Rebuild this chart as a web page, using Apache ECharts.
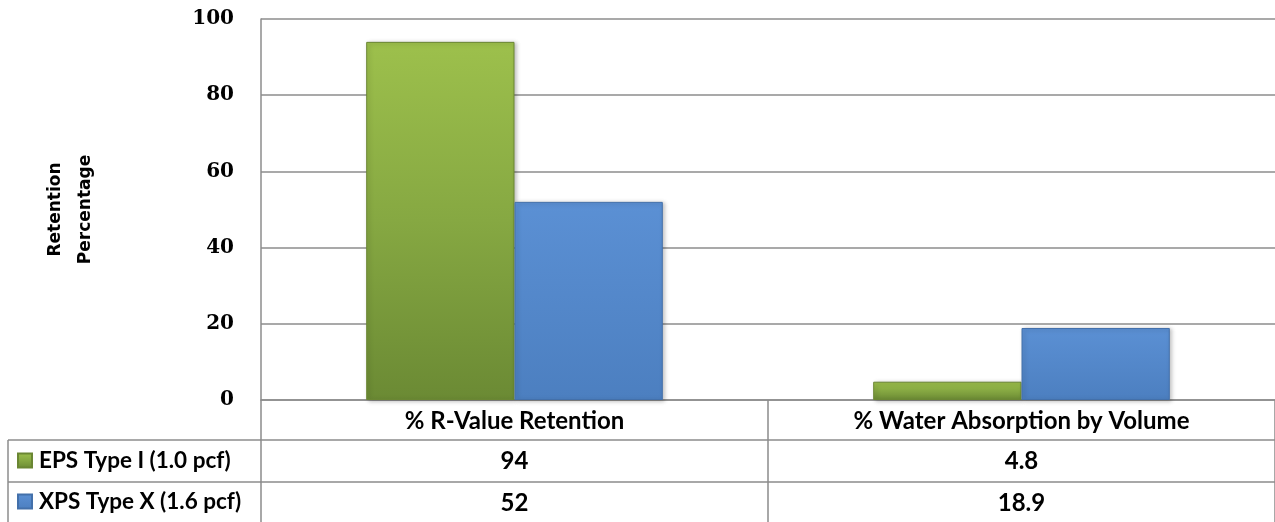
<!DOCTYPE html>
<html>
<head>
<meta charset="utf-8">
<script src="https://cdn.jsdelivr.net/npm/echarts@6/dist/echarts.min.js"></script>
<style>
html,body{margin:0;padding:0;background:#fff;}
#chart{width:1275px;height:522px;}
</style>
</head>
<body>
<div id="chart"></div>
<script>
const categories = ['% R-Value Retention', '% Water Absorption by Volume'];
const seriesNames = ['EPS Type I (1.0 pcf)', 'XPS Type X (1.6 pcf)'];
const epsValues = [94, 4.8];
const xpsValues = [52, 18.9];
const yTicks = [0, 20, 40, 60, 80, 100];
const yTitle = 'Retention\nPercentage';

const gridCol = '#8c8c8c';
const tableFont = {fontFamily: 'Lato', fontWeight: 'bold', fontSize: 24, color: '#000'};

const chart = echarts.init(document.getElementById('chart'), null, {renderer: 'canvas'});

function tableAxis(data, offset, tickLen) {
  return {
    type: 'category',
    data: data.map(String),
    position: 'bottom',
    gridIndex: 0,
    offset: offset,
    boundaryGap: true,
    axisLine: {show: true, lineStyle: {color: gridCol, width: 1.5}},
    axisTick: {show: true, alignWithLabel: false, length: tickLen, lineStyle: {color: gridCol, width: 1.5}},
    axisLabel: Object.assign({show: true, interval: 0, verticalAlign: 'middle', margin: 21}, tableFont),
    splitLine: {show: false}
  };
}

function legendRow(name, top) {
  return {
    data: [name],
    orient: 'horizontal',
    left: 17,
    top: top,
    itemWidth: 14,
    itemHeight: 14,
    icon: 'rect',
    padding: 0,
    textStyle: Object.assign({}, tableFont, {fontSize: 22.5, padding: [0, 0, 0, 2]}),
    selectedMode: false
  };
}

const option = {
  animation: false,
  backgroundColor: '#fff',
  grid: {left: 261, right: 0, top: 19, bottom: 122, containLabel: false},
  legend: [legendRow(seriesNames[0], 449), legendRow(seriesNames[1], 490)],
  xAxis: [
    tableAxis(categories, 0, 40),
    tableAxis(epsValues, 40, 42),
    tableAxis(xpsValues, 82, 42)
  ],
  yAxis: {
    type: 'value',
    min: yTicks[0],
    max: yTicks[yTicks.length - 1],
    interval: 20,
    name: yTitle,
    nameLocation: 'middle',
    nameRotate: 90,
    nameGap: 160,
    nameTextStyle: {fontFamily: 'DejaVu Sans', fontWeight: 'bold', fontSize: 17, lineHeight: 30, color: '#000'},
    axisLine: {show: true, lineStyle: {color: gridCol, width: 1.5}},
    axisTick: {show: false},
    axisLabel: {margin: 27, fontFamily: 'DejaVu Serif', fontWeight: 'bold', fontSize: 20, color: '#000'},
    splitLine: {show: true, lineStyle: {color: gridCol, width: 1.5}}
  },
  graphic: [
    {type: 'line', shape: {x1: 8, y1: 440, x2: 261, y2: 440}, style: {stroke: gridCol, lineWidth: 1.5}},
    {type: 'line', shape: {x1: 8, y1: 482, x2: 261, y2: 482}, style: {stroke: gridCol, lineWidth: 1.5}},
    {type: 'line', shape: {x1: 8, y1: 440, x2: 8, y2: 522}, style: {stroke: gridCol, lineWidth: 1.5}}
  ],
  series: [
    {
      name: seriesNames[0],
      type: 'bar',
      xAxisIndex: 0,
      data: epsValues,
      barGap: '0%',
      barCategoryGap: '41.5%',
      itemStyle: {
        color: new echarts.graphic.LinearGradient(0, 0, 0, 1, [
          {offset: 0, color: '#9dc04c'},
          {offset: 0.5, color: '#86a842'},
          {offset: 1, color: '#6b8a34'}
        ]),
        borderColor: '#6a8633',
        borderWidth: 1,
        shadowColor: 'rgba(0,0,0,0.25)',
        shadowBlur: 4,
        shadowOffsetX: 2,
        shadowOffsetY: 1
      }
    },
    {
      name: seriesNames[1],
      type: 'bar',
      xAxisIndex: 0,
      data: xpsValues,
      barGap: '0%',
      barCategoryGap: '41.5%',
      itemStyle: {
        color: new echarts.graphic.LinearGradient(0, 0, 0, 1, [
          {offset: 0, color: '#5b90d4'},
          {offset: 1, color: '#4c7fc0'}
        ]),
        borderColor: '#4370aa',
        borderWidth: 1,
        shadowColor: 'rgba(0,0,0,0.25)',
        shadowBlur: 4,
        shadowOffsetX: 2,
        shadowOffsetY: 1
      }
    }
  ]
};
chart.setOption(option);
</script>
</body>
</html>
